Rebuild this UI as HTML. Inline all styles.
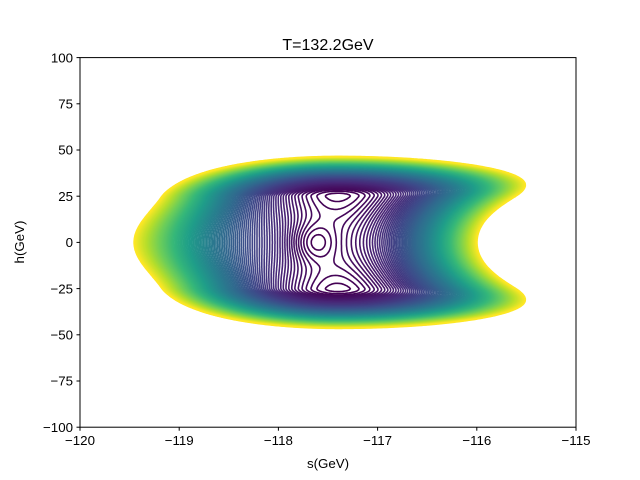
<!DOCTYPE html>
<html><head><meta charset="utf-8"><style>
body{margin:0;background:#fff;}
svg{display:block;font-family:"Liberation Sans","DejaVu Sans",sans-serif;}
</style></head><body>
<svg id="chart" width="640" height="480" viewBox="0 0 640 480">
<defs><clipPath id="clip"><rect x="80" y="57.6" width="496" height="369.6"/></clipPath></defs>
<rect width="640" height="480" fill="#fff"/>
<text x="328" y="50" font-size="16" text-anchor="middle">T=132.2GeV</text>
<g id="contours" clip-path="url(#clip)"></g>
<rect x="80" y="57.6" width="496" height="369.6" fill="none" stroke="#000" stroke-width="1"/>
<g id="xticks"></g>
<g id="yticks"></g>
<text x="328" y="468" font-size="13.3" text-anchor="middle">s(GeV)</text>
<text x="24" y="242" font-size="13.3" text-anchor="middle" transform="rotate(-90 24 242)">h(GeV)</text>
</svg>
<script>
const xTicks=[-120,-119,-118,-117,-116,-115];
const yTicks=[-100,-75,-50,-25,0,25,50,75,100];
const levelMin=[0.02];
const levelMax=[2.4];
const levelCount=[110];
const wellCenter=[-117.4,29];
const centerDip=[-117.65,0,0.14];
const viridis=["#440154","#482878","#3e4989","#31688e","#26828e","#1f9e89","#35b779","#6ece58","#b5de2b","#fde725"];

const X0=80,X1=576,Y0=427.2,Y1=57.6;
const sx=s=>X0+(s+120)/5*(X1-X0);
const sy=h=>Y0-(h+100)/200*(Y0-Y1);
const NS="http://www.w3.org/2000/svg";

function field(s,h){
  const u=s-wellCenter[0], y=h/wellCenter[1];
  const y2=y*y, ay=Math.abs(y);
  const wall=ay>0.85?3.7*(ay-0.85)*(ay-0.85):0;
  const W=0.12*(y2-1)*(y2-1)+wall;
  const m=Math.tanh(y2);
  const a=u<0?0.54+0.35*m:1.16-0.66*m;
  const du=s-centerDip[0];
  return W+a*u*u-centerDip[2]*Math.exp(-(du*du)/0.06-(y2)/0.15);
}
function hex(c){return [parseInt(c.slice(1,3),16),parseInt(c.slice(3,5),16),parseInt(c.slice(5,7),16)];}
function cmap(t){
  const n=viridis.length-1,p=t*n,i=Math.min(n-1,Math.floor(p)),f=p-i;
  const a=hex(viridis[i]),b=hex(viridis[i+1]);
  return "rgb("+a.map((v,k)=>Math.round(v+(b[k]-v)*f)).join(",")+")";
}
const NX=260,NY=220,sMin=-120,sMax=-115,hMin=-60,hMax=60;
const G=[];
for(let j=0;j<=NY;j++){const row=[];const h=hMin+(hMax-hMin)*j/NY;
  for(let i=0;i<=NX;i++){row.push(field(sMin+(sMax-sMin)*i/NX,h));}G.push(row);}
const px=i=>sx(sMin+(sMax-sMin)*i/NX), py=j=>sy(hMin+(hMax-hMin)*j/NY);
const g=document.getElementById('contours');
const n=levelCount[0];
const f1=q=>q[0].toFixed(1)+" "+q[1].toFixed(1);
for(let k=0;k<n;k++){
  const L=levelMin[0]+(levelMax[0]-levelMin[0])*k/(n-1);
  let d="";
  for(let j=0;j<NY;j++)for(let i=0;i<NX;i++){
    const v=[G[j][i],G[j][i+1],G[j+1][i+1],G[j+1][i]];
    const c=[[i,j],[i+1,j],[i+1,j+1],[i,j+1]];
    const pts=[];
    for(let e=0;e<4;e++){const a=v[e],b=v[(e+1)%4];
      if((a<L)!==(b<L)){const t=(L-a)/(b-a);const A=c[e],B=c[(e+1)%4];
        pts.push([px(A[0]+(B[0]-A[0])*t),py(A[1]+(B[1]-A[1])*t)]);}}
    if(pts.length===2){d+="M"+f1(pts[0])+"L"+f1(pts[1]);}
    else if(pts.length===4){d+="M"+f1(pts[0])+"L"+f1(pts[1])+"M"+f1(pts[2])+"L"+f1(pts[3]);}
  }
  if(!d)continue;
  const p=document.createElementNS(NS,'path');
  p.setAttribute('d',d);p.setAttribute('fill','none');
  p.setAttribute('stroke',cmap(k/(n-1)));p.setAttribute('stroke-width','1.6');
  p.setAttribute('stroke-linecap','round');
  
  
  g.appendChild(p);
}
const fmt=v=>(v<0?"\u2212":"")+Math.abs(v);
const xg=document.getElementById('xticks');
xTicks.forEach(v=>{const x=sx(v);
  const l=document.createElementNS(NS,'line');l.setAttribute('x1',x);l.setAttribute('x2',x);l.setAttribute('y1',Y0);l.setAttribute('y2',Y0+3.5);l.setAttribute('stroke','#000');
  
  
  xg.appendChild(l);
  const t=document.createElementNS(NS,'text');t.setAttribute('x',x);t.setAttribute('y',Y0+18);t.setAttribute('font-size','13.3');t.setAttribute('text-anchor','middle');t.textContent=fmt(v);
  
  
  xg.appendChild(t);});
const yg=document.getElementById('yticks');
yTicks.forEach(v=>{const y=sy(v);
  const l=document.createElementNS(NS,'line');l.setAttribute('x1',X0-3.5);l.setAttribute('x2',X0);l.setAttribute('y1',y);l.setAttribute('y2',y);l.setAttribute('stroke','#000');
  
  
  yg.appendChild(l);
  const t=document.createElementNS(NS,'text');t.setAttribute('x',X0-7);t.setAttribute('y',y+4.7);t.setAttribute('font-size','13.3');t.setAttribute('text-anchor','end');t.textContent=fmt(v);
  
  
  yg.appendChild(t);});
</script>
</body></html>
